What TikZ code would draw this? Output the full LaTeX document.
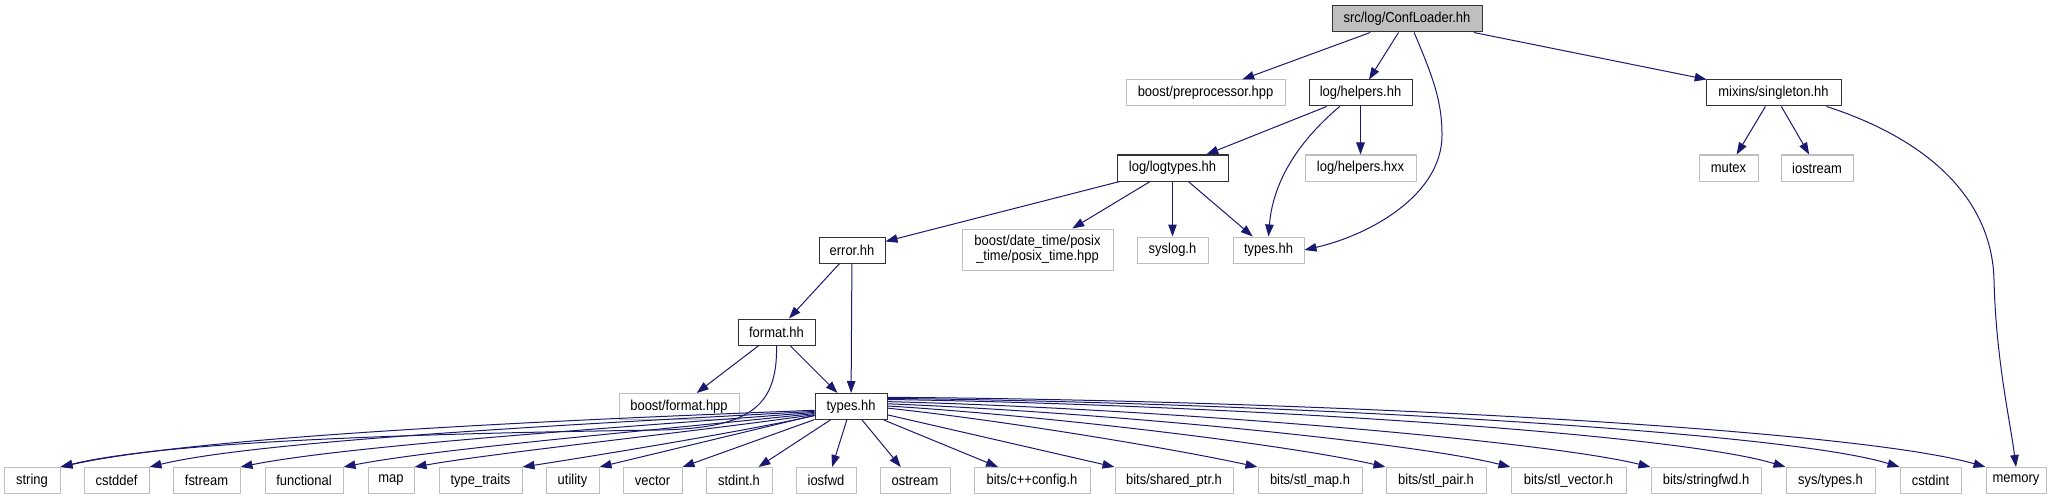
\documentclass[tikz,border=0pt]{standalone}
\usepackage{fontspec}
\setmainfont{Liberation Sans}[FakeStretch=0.9]
\usetikzlibrary{arrows.meta,calc}
\definecolor{edgec}{HTML}{191970}
\definecolor{greyb}{HTML}{BFBFBF}
\begin{document}
\begin{tikzpicture}[x=1pt,y=-1pt,
  font=\fontsize{14.4}{15}\selectfont,
  box/.style={draw, rectangle, minimum height=26pt, inner sep=0pt, line width=1pt},
  ext/.style={box, draw=greyb},
  loc/.style={box, draw=black!80, line width=1pt},
  root/.style={box, draw=black!80, fill=greyb, line width=1pt},
  bw/.style={minimum width=#1pt},
  conn/.style={draw=edgec, line width=1pt, -{Triangle[length=12pt,width=8.5pt]}}]
\useasboundingbox (0,0) rectangle (2061,500);

% row 1
\node[root, bw=150] (conf) at (1407,19) {src/log/ConfLoader.hh};
% row 2
\node[ext, bw=159] (prep) at (1205.5,93) {boost/preprocessor.hpp};
\node[loc, bw=103] (helpers) at (1360.5,93) {log/helpers.hh};
\node[loc, bw=135] (single) at (1773.5,93) {mixins/singleton.hh};
% row 3
\node[loc, bw=111] (logtypes) at (1172.5,168) {log/logtypes.hh};
\node[ext, bw=111] (hxx) at (1360.5,168) {log/helpers.hxx};
\node[ext, bw=59] (mutex) at (1728.5,168) {mutex};
\node[ext, bw=72] (iostream) at (1817,168) {iostream};
% row 4
\node[loc, bw=66] (error) at (852,250) {error.hh};
\node[ext, bw=151, minimum height=41pt, align=center] (posix) at (1037.5,249.5) {boost/date\_time/posix\\\_time/posix\_time.hpp};
\node[ext, bw=71] (syslog) at (1172.5,250) {syslog.h};
\node[ext, bw=71] (types1) at (1268.5,250) {types.hh};
% row 5
\node[loc, bw=77] (format) at (776.5,332) {format.hh};
% row 6
\node[ext, bw=120] (bformat) at (679,406.5) {boost/format.hpp};
\node[loc, bw=72] (types2) at (851,406.5) {types.hh};
% row 7
\node[ext, bw=56] (string) at (32,480.5) {string};
\node[ext, bw=65] (cstddef) at (116.5,480.5) {cstddef};
\node[ext, bw=67] (fstream) at (206.5,480.5) {fstream};
\node[ext, bw=78] (functional) at (304,480.5) {functional};
\node[ext, bw=46] (map) at (391,480.5) {map};
\node[ext, bw=83] (typetraits) at (480.5,480.5) {type\_traits};
\node[ext, bw=53] (utility) at (572.5,480.5) {utility};
\node[ext, bw=59] (vector) at (652.5,480.5) {vector};
\node[ext, bw=66] (stdint) at (739,480.5) {stdint.h};
\node[ext, bw=60] (iosfwd) at (826,480.5) {iosfwd};
\node[ext, bw=70] (ostream) at (915,480.5) {ostream};
\node[ext, bw=116] (cppconfig) at (1032,480.5) {bits/c++config.h};
\node[ext, bw=118] (sharedptr) at (1174,480.5) {bits/shared\_ptr.h};
\node[ext, bw=104] (stlmap) at (1310,480.5) {bits/stl\_map.h};
\node[ext, bw=100] (stlpair) at (1436,480.5) {bits/stl\_pair.h};
\node[ext, bw=115] (stlvector) at (1568.5,480.5) {bits/stl\_vector.h};
\node[ext, bw=110] (stringfwd) at (1706,480.5) {bits/stringfwd.h};
\node[ext, bw=89] (systypes) at (1830.5,480.5) {sys/types.h};
\node[ext, bw=61] (cstdint) at (1930.5,480.5) {cstdint};
\node[ext, bw=60] (memory) at (2016,480.5) {memory};

% edges from root
\draw[conn] (conf) -- (prep);
\draw[conn] (conf) -- (helpers);
\draw[conn] (conf) -- (single);
\draw[conn] ($(conf.south west)!0.547!(conf.south east)$) .. controls (1432,75) and (1442,100) .. (1442,135) .. controls (1442,195) and (1370,235) .. (types1.east);
% helpers
\draw[conn] (helpers) -- (logtypes);
\draw[conn] (helpers) -- (hxx);
\draw[conn] ($(helpers.south west)!0.3!(helpers.south east)$) .. controls (1300,140) and (1273,180) .. (types1.north);
% singleton
\draw[conn] (single) -- (mutex);
\draw[conn] (single) -- (iostream);
\draw[conn] ($(single.south west)!0.89!(single.south east)$) .. controls (1930,140) and (1992,200) .. (1994,280) .. controls (1996,360) and (2010,420) .. (memory.north);
% logtypes
\draw[conn] (logtypes) -- (error);
\draw[conn] (logtypes) -- (posix);
\draw[conn] (logtypes) -- (syslog);
\draw[conn] (logtypes) -- (types1);
% error
\draw[conn] (error) -- (format);
\draw[conn] (error) -- (types2);
% format
\draw[conn] (format) -- (bformat);
\draw[conn] (format) -- (types2);
\draw[conn] (format.south) .. controls (778,410) and (745,428) .. (660,430) .. controls (450,433) and (170,440) .. (string.north east);
% types2 left fan
\draw[conn] ($(types2.north west)!0.64!(types2.south west)$) .. controls (560,420) and (200,436) .. (string.north east);
\draw[conn] ($(types2.north west)!0.68!(types2.south west)$) .. controls (600,423) and (260,440) .. (cstddef.north east);
\draw[conn] ($(types2.north west)!0.72!(types2.south west)$) .. controls (640,426) and (350,445) .. (fstream.north east);
\draw[conn] ($(types2.north west)!0.76!(types2.south west)$) .. controls (680,428) and (440,448) .. (functional.north east);
\draw[conn] ($(types2.north west)!0.80!(types2.south west)$) .. controls (710,430) and (500,452) .. (map.north east);
\draw[conn] ($(types2.north west)!0.84!(types2.south west)$) .. controls (740,432) and (600,455) .. (typetraits.north east);
\draw[conn] (types2) -- (utility.north east);
\draw[conn] (types2) -- (vector.north east);
% types2 middle
\draw[conn] (types2) -- ($(stdint.north west)!0.79!(stdint.north east)$);
\draw[conn] (types2) -- ($(iosfwd.north west)!0.6!(iosfwd.north east)$);
\draw[conn] (types2) -- ($(ostream.north west)!0.3!(ostream.north east)$);
\draw[conn] (types2) -- ($(cppconfig.north west)!0.21!(cppconfig.north east)$);
\draw[conn] (types2) -- (sharedptr.north west);
% types2 right fan
\draw[conn] ($(types2.north east)!0.56!(types2.south east)$) .. controls (1000,420) and (1170,448) .. (stlmap.north west);
\draw[conn] ($(types2.north east)!0.48!(types2.south east)$) .. controls (1050,416) and (1290,445) .. (stlpair.north west);
\draw[conn] ($(types2.north east)!0.40!(types2.south east)$) .. controls (1100,412) and (1410,442) .. (stlvector.north west);
\draw[conn] ($(types2.north east)!0.32!(types2.south east)$) .. controls (1150,408) and (1540,440) .. (stringfwd.north west);
\draw[conn] ($(types2.north east)!0.24!(types2.south east)$) .. controls (1200,404) and (1670,432) .. (systypes.north west);
\draw[conn] ($(types2.north east)!0.20!(types2.south east)$) .. controls (1250,402) and (1780,430) .. (cstdint.north west);
\draw[conn] ($(types2.north east)!0.16!(types2.south east)$) .. controls (1300,400) and (1850,428) .. (memory.north west);
\end{tikzpicture}
\end{document}
